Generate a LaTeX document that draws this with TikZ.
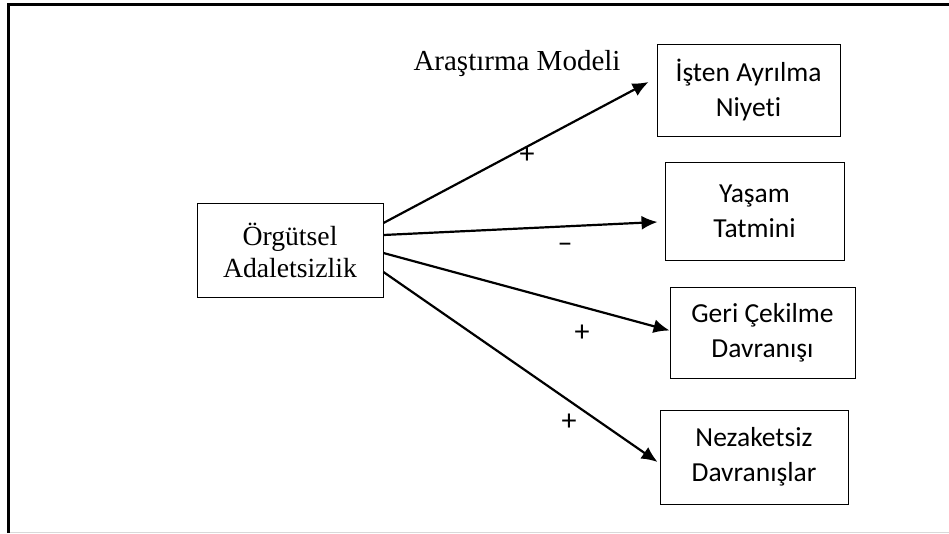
\documentclass[tikz,border=0pt]{standalone}
\usepackage{fontspec}
\setmainfont{Liberation Serif}
\newfontfamily\calfont[Ligatures={NoCommon,NoContextual}]{Carlito}
\usetikzlibrary{arrows.meta}
\begin{document}
\begin{tikzpicture}[x=1pt,y=-1pt,
  serifbox/.style={draw,line width=0.9pt,inner sep=0pt,align=center,font=\fontsize{27.7}{32}\selectfont},
  sansbox/.style={draw,line width=0.9pt,inner sep=0pt,align=center,font=\calfont\fontsize{27.5}{35}\selectfont},
  conn/.style={line width=2.2pt,-{Latex[length=16pt,width=14pt]}},
  sign/.style={font=\calfont\fontsize{30}{30}\selectfont,inner sep=0pt}]
\useasboundingbox (0,0) rectangle (949,533);
% frame
\draw[black!15,line width=1pt] (9,532.5) -- (949,532.5);
\draw[line width=2.8pt] (8.5,533) -- (8.5,4.5) -- (949,4.5);
% nodes
\node[serifbox,minimum width=186pt,minimum height=94pt] (org) at (290,250) {Örgütsel\\Adaletsizlik};
\node[sansbox,minimum width=183pt,minimum height=92pt] (n1) at (748.5,90) {İşten Ayrılma\\Niyeti};
\node[sansbox,minimum width=179pt,minimum height=98pt] (n2) at (754.5,211) {Yaşam\\Tatmini};
\node[sansbox,minimum width=185pt,minimum height=91pt] (n3) at (762.5,332.5) {Geri Çekilme\\Davranışı};
\node[sansbox,minimum width=188pt,minimum height=94pt] (n4) at (754,457) {Nezaketsiz\\Davranışlar};
\node[font=\fontsize{29}{29}\selectfont,inner sep=0pt] (title) at (517,64) {Araştırma Modeli};
% connectors
\draw[conn] ([yshift=27pt]org.east) -- ([xshift=-8pt,yshift=8pt]n1.west);
\draw[conn] ([yshift=15pt]org.east) -- ([xshift=-7pt,yshift=-11pt]n2.west);
\draw[conn] ([yshift=-3pt]org.east) -- ([yshift=2pt]n3.west);
\draw[conn] ([yshift=-22pt]org.east) -- ([xshift=-2pt,yshift=-5pt]n4.west);
% signs
\node[sign] (s1) at (527,155) {+};
\node[sign] (s2) at (565,248) {–};
\node[sign] (s3) at (582,333) {+};
\node[sign] (s4) at (569,422) {+};
\end{tikzpicture}
\end{document}
